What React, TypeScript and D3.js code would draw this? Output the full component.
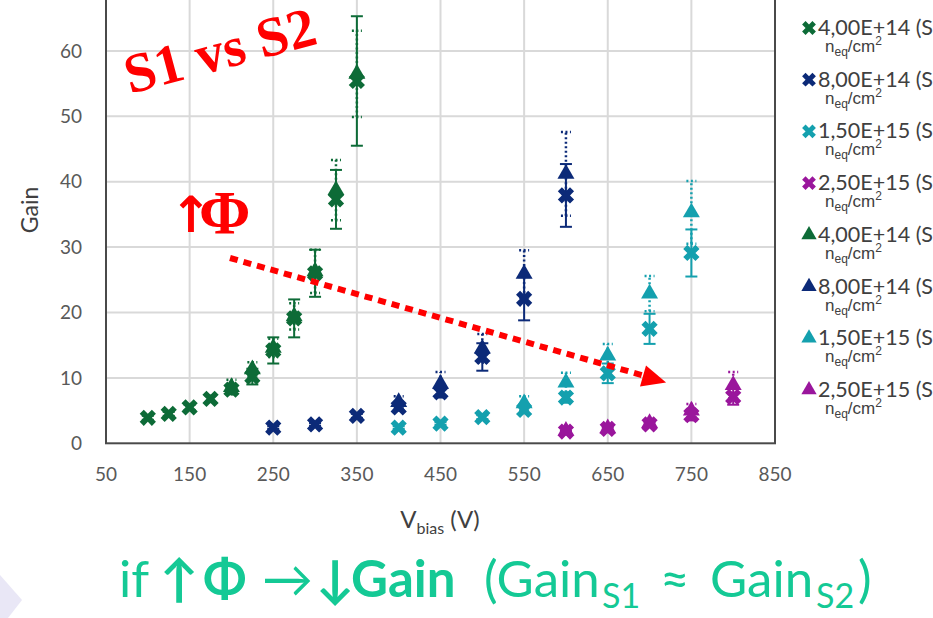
import React from "react";
import * as d3 from "d3";

const W = 933;
const H = 618;

// S1 = crosses (solid error bars), S2 = triangles (dotted error bars)
const voltsGreenS1 = [100, 125, 150, 175, 200, 225, 250, 275, 300, 325, 350];
const gainGreenS1 = [3.9, 4.5, 5.5, 6.8, 8.2, 10.2, 14.2, 19.1, 26.0, 37.3, 55.4];
const errGreenS1 = [0.3, 0.3, 0.4, 0.5, 0.7, 1.2, 2.0, 2.9, 3.6, 4.5, 9.9];

const voltsNavyS1 = [250, 300, 350, 400, 450, 500, 550, 600];
const gainNavyS1 = [2.4, 2.9, 4.2, 5.5, 7.8, 13.2, 22.1, 37.9];
const errNavyS1 = [0.2, 0.2, 0.3, 0.5, 0.8, 2.1, 3.3, 4.8];

const voltsTealS1 = [400, 450, 500, 550, 600, 650, 700, 750];
const gainTealS1 = [2.4, 3.0, 4.0, 5.1, 7.0, 10.7, 17.5, 29.1];
const errTealS1 = [0.2, 0.2, 0.3, 0.5, 0.8, 1.5, 2.3, 3.6];

const voltsPurpleS1 = [600, 650, 700, 750, 800];
const gainPurpleS1 = [1.8, 2.2, 2.9, 4.3, 7.1];
const errPurpleS1 = [0.1, 0.2, 0.3, 0.8, 1.2];

const voltsGreenS2 = [200, 225, 250, 275, 300, 325, 350];
const gainGreenS2 = [8.6, 11.3, 14.6, 19.4, 26.3, 38.7, 56.5];
const errGreenS2 = [1.1, 1.1, 1.4, 2.0, 3.3, 4.6, 6.6];

const voltsNavyS2 = [400, 450, 500, 550, 600];
const gainNavyS2 = [6.3, 9.1, 14.5, 25.9, 41.2];
const errNavyS2 = [0.9, 1.8, 2.2, 3.6, 6.4];

const voltsTealS2 = [550, 600, 650, 700, 750];
const gainTealS2 = [6.1, 9.3, 13.4, 22.9, 35.3];
const errTealS2 = [1.1, 1.5, 1.8, 2.7, 4.8];

const voltsPurpleS2 = [600, 650, 700, 750, 800];
const gainPurpleS2 = [1.9, 2.3, 3.1, 5.0, 8.9];
const errPurpleS2 = [0.2, 0.3, 0.4, 1.0, 2.0];

const fluenceLabels = ["4,00E+14", "8,00E+14", "1,50E+15", "2,50E+15"];
const xTicks = [50, 150, 250, 350, 450, 550, 650, 750, 850];
const yTicks = [0, 10, 20, 30, 40, 50, 60, 70];

const colors = ["#0d6b37", "#0c2a78", "#14a0ae", "#9a169c"];

const zip = (v: number[], g: number[], e: number[]) =>
  v.map((d, i) => ({ v: d, g: g[i], e: e[i] }));

const seriesS1 = [
  zip(voltsGreenS1, gainGreenS1, errGreenS1),
  zip(voltsNavyS1, gainNavyS1, errNavyS1),
  zip(voltsTealS1, gainTealS1, errTealS1),
  zip(voltsPurpleS1, gainPurpleS1, errPurpleS1),
];
const seriesS2 = [
  zip(voltsGreenS2, gainGreenS2, errGreenS2),
  zip(voltsNavyS2, gainNavyS2, errNavyS2),
  zip(voltsTealS2, gainTealS2, errTealS2),
  zip(voltsPurpleS2, gainPurpleS2, errPurpleS2),
];

const crossPath = d3.symbol(d3.symbolCross, 165)() as string;
const triPath = d3.symbol(d3.symbolTriangle, 125)() as string;

export default function App() {
  const x = d3.scaleLinear().domain([50, 850]).range([106, 775]);
  const y = d3.scaleLinear().domain([0, 70]).range([443.3, -14.5]);
  const tickFont = "Lato, 'Open Sans', sans-serif";
  const serif = "'Liberation Serif', 'Times New Roman', serif";
  const red = "#ff0000";
  const green = "#14c995";

  // dotted arrow
  const a0 = [230, 258];
  const a1 = [645, 376];
  const ang = Math.atan2(a1[1] - a0[1], a1[0] - a0[0]);

  const by0 = 597; // baseline of the bottom statement

  return (
    <div
      style={{
        position: "absolute",
        left: 0,
        top: 0,
        width: W,
        height: H,
        overflow: "hidden",
        background: "#fff",
      }}
    >
      <svg width={W} height={H}>
        {/* slide decoration */}
        <path d="M0,575 L22,600 L8,618 L0,618 Z" fill="#e9e7f6" />

        {/* grid */}
        {xTicks.slice(1, -1).map((t) => (
          <line key={"gx" + t} x1={x(t)} x2={x(t)} y1={y(0)} y2={y(70)} stroke="#d9d9d9" strokeWidth={2} />
        ))}
        {yTicks.slice(1).map((t) => (
          <line key={"gy" + t} x1={x(50)} x2={x(850)} y1={y(t)} y2={y(t)} stroke="#d9d9d9" strokeWidth={2} />
        ))}
        <rect
          x={x(50)}
          y={y(70)}
          width={x(850) - x(50)}
          height={y(0) - y(70)}
          fill="none"
          stroke="#4a4a4a"
          strokeWidth={2}
        />

        {/* tick labels */}
        {yTicks.slice(0, -1).map((t) => (
          <text key={"ty" + t} x={82} y={y(t)} dy="0.35em" textAnchor="end" fontSize={19} fill="#595959" fontFamily={tickFont}>
            {t}
          </text>
        ))}
        {xTicks.map((t) => (
          <text key={"tx" + t} x={x(t)} y={474} dy="0.35em" textAnchor="middle" fontSize={19} fill="#595959" fontFamily={tickFont}>
            {t}
          </text>
        ))}
        <text x={30} y={210} transform="rotate(-90 30 210)" textAnchor="middle" dy="0.35em" fontSize={23} fill="#404040" fontFamily={tickFont}>
          Gain
        </text>
        <text x={440} y={528} textAnchor="middle" fontSize={24} fill="#404040" fontFamily={tickFont}>
          V<tspan fontSize={16} dy={6}>bias</tspan>
          <tspan dy={-6}> (V)</tspan>
        </text>

        {/* S1 error bars (solid) */}
        {seriesS1.map((s, si) =>
          s.map((d, i) => (
            <g key={"e1" + si + "-" + i} stroke={colors[si]} strokeWidth={2}>
              <line x1={x(d.v)} x2={x(d.v)} y1={y(d.g - d.e)} y2={y(d.g + d.e)} />
              <line x1={x(d.v) - 6} x2={x(d.v) + 6} y1={y(d.g - d.e)} y2={y(d.g - d.e)} />
              <line x1={x(d.v) - 6} x2={x(d.v) + 6} y1={y(d.g + d.e)} y2={y(d.g + d.e)} />
            </g>
          ))
        )}
        {/* S2 error bars (dotted) */}
        {seriesS2.map((s, si) =>
          s.map((d, i) => (
            <g key={"e2" + si + "-" + i} stroke={colors[si]} strokeWidth={2.5} strokeDasharray="2 2.5">
              <line x1={x(d.v)} x2={x(d.v)} y1={y(d.g - d.e)} y2={y(d.g + d.e)} />
              <line x1={x(d.v) - 5} x2={x(d.v) + 5} y1={y(d.g - d.e)} y2={y(d.g - d.e)} />
              <line x1={x(d.v) - 5} x2={x(d.v) + 5} y1={y(d.g + d.e)} y2={y(d.g + d.e)} />
            </g>
          ))
        )}
        {/* markers */}
        {seriesS1.map((s, si) =>
          s.map((d, i) => (
            <path
              key={"m1" + si + "-" + i}
              d={crossPath}
              transform={`translate(${x(d.v)},${y(d.g)}) rotate(45)`}
              fill={colors[si]}
            />
          ))
        )}
        {seriesS2.map((s, si) =>
          s.map((d, i) => (
            <path
              key={"m2" + si + "-" + i}
              d={triPath}
              transform={`translate(${x(d.v)},${y(d.g)})`}
              fill={colors[si]}
            />
          ))
        )}

        {/* legend */}
        {[0, 1].map((sIdx) =>
          fluenceLabels.map((f, i) => {
            const k = sIdx * 4 + i;
            const by = 35 + k * 51.7;
            return (
              <g key={"lg" + k}>
                <path
                  d={sIdx === 0 ? crossPath : triPath}
                  transform={`translate(809,${by - 7})${sIdx === 0 ? " rotate(45) scale(0.85)" : " scale(0.9)"}`}
                  fill={colors[i]}
                />
                <text x={818} y={by} fontSize={21.5} fill="#404040" fontFamily={tickFont}>
                  {f} (S{sIdx + 1})
                </text>
                <text x={825} y={by + 17} fontSize={17} fill="#404040" fontFamily="'Liberation Sans', Arial, sans-serif">
                  n<tspan fontSize={12} dy={4}>eq</tspan>
                  <tspan dy={-4}>/cm</tspan>
                  <tspan fontSize={12} dy={-7}>2</tspan>
                </text>
              </g>
            );
          })
        )}

        {/* annotations */}
        <text x={130} y={94} transform="rotate(-15 130 94)" fontSize={56} fontWeight="bold" fill={red} fontFamily={serif}>
          S1 vs S2
        </text>
        <text x={170} y={232} fontSize={50} fontWeight="bold" fill={red} fontFamily="'DejaVu Sans', sans-serif">
          ↑
        </text>
        <text x={199} y={233} fontSize={62} fontWeight="bold" fill={red} fontFamily={serif}>
          Φ
        </text>
        <line x1={a0[0]} y1={a0[1]} x2={a1[0]} y2={a1[1]} stroke={red} strokeWidth={6} strokeDasharray="8 6" />
        <path
          d="M0,-11 L24,0 L0,11 Z"
          transform={`translate(${a1[0] - 2},${a1[1]}) rotate(${(ang * 180) / Math.PI})`}
          fill={red}
        />

        {/* bottom statement */}
        <g fontSize={51} fill={green} fontFamily={tickFont}>
          <text x={119} y={by0}>if</text>
          <text x={160} y={by0} fontWeight="bold">↑</text>
          <text x={203} y={by0} fontWeight="bold">Φ</text>
          <text x={262} y={by0}>→</text>
          <text x={316} y={by0} fontWeight="bold">↓</text>
          <text x={351} y={by0} fontWeight="bold">Gain</text>
          <text x={484} y={by0}>(Gain</text>
          <text x={602} y={by0 + 11} fontSize={34}>S1</text>
          <text x={660} y={by0}>≈</text>
          <text x={710} y={by0}>Gain</text>
          <text x={816} y={by0 + 11} fontSize={34}>S2</text>
          <text x={858} y={by0}>)</text>
        </g>
      </svg>
    </div>
  );
}
